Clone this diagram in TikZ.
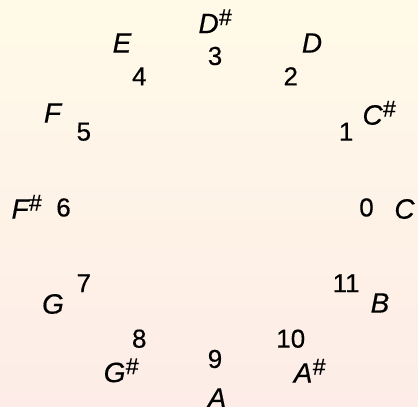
\documentclass[tikz,border=0pt]{standalone}
\usepackage{fontspec}
\setmainfont{Liberation Sans}[FakeBold=0.4]
\newcommand{\shp}{\smash{\raisebox{8pt}{\fontsize{23}{23}\selectfont\#}}}
\begin{document}
\begin{tikzpicture}[x=1pt,y=1pt,
  num/.style={font=\fontsize{26}{26}\selectfont, inner sep=0pt},
  note/.style={font=\fontsize{28}{28}\selectfont\itshape, inner sep=0pt}]
\shade[top color={rgb,255:red,255;green,250;blue,232}, bottom color={rgb,255:red,253;green,236;blue,231}] (0,0) rectangle (418,407);
\useasboundingbox (0,0) rectangle (418,407);
\coordinate (ctr) at (215,199.5);
\foreach \k in {0,...,11}{
  \node[num] (n\k) at ([shift={(\k*30:151.5)}]ctr) {\k};
}
\foreach \k/\n/\x/\y in {0/C/404.5/209, 1/C\shp/379/115, 2/D/312/43, 3/D\shp/215/23.5,
  4/E/122/43, 5/F/52.5/113, 6/F\shp/26.5/209, 7/G/53/304, 8/G\shp/121/372.5,
  9/A/217/398, 10/A\shp/309.5/373, 11/B/380/303}{
  \node[note] (m\k) at (\x,407-\y) {\n};
}
\end{tikzpicture}
\end{document}
